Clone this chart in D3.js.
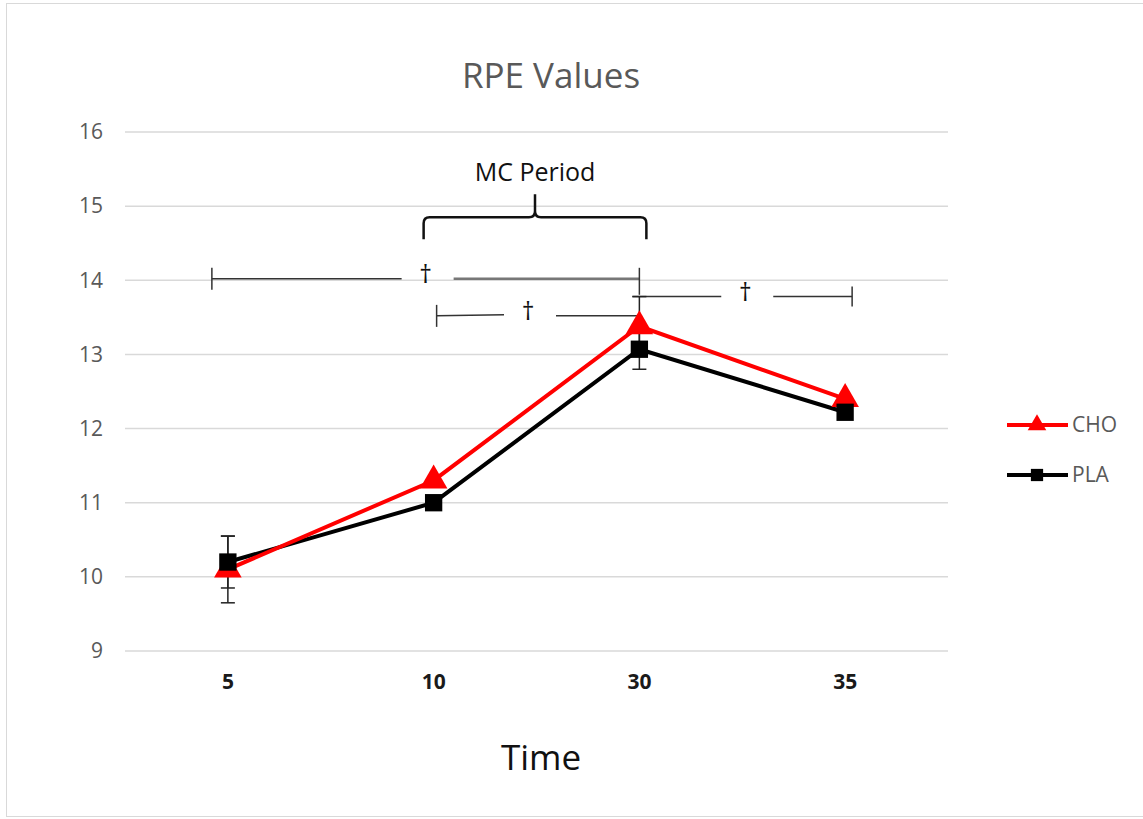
<!DOCTYPE html>
<html><head><meta charset="utf-8">
<script src="https://cdn.jsdelivr.net/npm/d3@7"></script>
<style>body{margin:0;background:#fff}svg{display:block}</style>
</head><body>
<svg id="c" width="1143" height="819"></svg>
<script>
const categories = ["5","10","30","35"];
const choValues = [10.1, 11.3, 13.38, 12.4];
const plaValues = [10.2, 11.0, 13.07, 12.22];
const choErr = [0.45, 0, 0.4, 0];
const plaErr = [0.35, 0, 0.27, 0];
const yTicks = [9,10,11,12,13,14,15,16];
const seriesNames = ["CHO","PLA"];
// significance brackets: [fromCategory, toCategory, yValue]
const sigFrom = ["5","10","30"];
const sigTo = ["30","30","35"];
const sigLevel = [14.02, 13.52, 13.78];
const braceFrom = "10", braceTo = "30", braceLevel = 14.85;

const svg = d3.select("#c");
const font = "'Open Sans', 'Noto Sans', sans-serif";
svg.append("rect").attr("x",6.5).attr("y",3.5).attr("width",1140).attr("height",813)
  .attr("fill","#fff").attr("stroke","#d9d9d9");

const x = d3.scaleBand().domain(categories).range([125,948]);
const cx = c => x(c) + x.bandwidth()/2;
const y = d3.scaleLinear().domain([9,16]).range([651,132]);

// grid
svg.append("g").selectAll("line").data(yTicks).join("line")
  .attr("x1",125).attr("x2",948).attr("y1",d=>y(d)).attr("y2",d=>y(d))
  .attr("stroke","#d9d9d9").attr("stroke-width",1.5);

// y axis labels
const ya = svg.append("g").attr("transform","translate(103,0)")
  .call(d3.axisLeft(y).tickValues(yTicks).tickFormat(d3.format("d")).tickSize(0).tickPadding(0));
ya.select(".domain").remove();
ya.selectAll("text").attr("font-family",font).attr("font-size",21).attr("fill","#595959");

// x axis labels
const xa = svg.append("g").attr("transform","translate(0,674)")
  .call(d3.axisBottom(x).tickSize(0).tickPadding(0));
xa.select(".domain").remove();
xa.selectAll("text").attr("font-family",font).attr("font-size",21).attr("font-weight","bold").attr("fill","#1a1a1a");

// title & axis title
svg.append("text").attr("x",551).attr("y",88).attr("text-anchor","middle")
  .attr("font-family",font).attr("font-size",35).attr("fill","#595959").text("RPE Values");
svg.append("text").attr("x",541).attr("y",770).attr("text-anchor","middle")
  .attr("font-family",font).attr("font-size",35).attr("fill","#111").text("Time");

// significance brackets
const leftOff = [-16, 3, -7], rightOff = [0, 0, 7], dagOff = [0, -10, 3];
const dg = svg.append("g").attr("stroke","#333").attr("stroke-width",1.5).attr("fill","none");
sigFrom.forEach((f,i)=>{
  const x1 = cx(f)+leftOff[i], x2 = cx(sigTo[i]) + rightOff[i], yy = y(sigLevel[i]);
  const mid = (x1+x2)/2 + dagOff[i];
  const gap = 24;
  dg.append("line").attr("x1",x1).attr("x2",mid-gap).attr("y1",yy).attr("y2",yy+(i===1?-1:0));
  dg.append("line").attr("x1",mid+gap+4).attr("x2",x2).attr("y1",yy).attr("y2",yy)
    .attr("stroke", i===0?"#777":"#333").attr("stroke-width", i===0?2.5:1.5);
  if(i!==2) dg.append("line").attr("x1",x1).attr("x2",x1).attr("y1",yy-11).attr("y2",yy+11);
  if(i===2) dg.append("line").attr("x1",x2).attr("x2",x2).attr("y1",yy-10).attr("y2",yy+10);
  if(i===0) dg.append("line").attr("x1",x2).attr("x2",x2).attr("y1",yy-11).attr("y2",yy+16);
  svg.append("text").attr("x",mid).attr("y",yy+4).attr("text-anchor","middle")
    .attr("font-family",font).attr("font-size",25).attr("fill","#111").text("†");
});

// brace
{
  const bx1 = cx(braceFrom)-10, bx2 = cx(braceTo)+7, by = y(braceLevel), bm = (bx1+bx2)/2;
  svg.append("path").attr("fill","none").attr("stroke","#111").attr("stroke-width",2.5)
    .attr("d",`M${bx1},${by+22} L${bx1},${by+6} Q${bx1},${by} ${bx1+6},${by} L${bm-6},${by} Q${bm},${by} ${bm},${by-6} L${bm},${by-23} M${bm},${by-6} Q${bm},${by} ${bm+6},${by} L${bx2-6},${by} Q${bx2},${by} ${bx2},${by+6} L${bx2},${by+22}`);
  svg.append("text").attr("x",bm).attr("y",by-36).attr("text-anchor","middle")
    .attr("font-family",font).attr("font-size",25).attr("fill","#111").text("MC Period");
}

// error bars
function errBars(vals, errs, color){
  const g = svg.append("g").attr("stroke",color).attr("stroke-width",1.5);
  vals.forEach((v,i)=>{
    if(!errs[i]) return;
    const xx = cx(categories[i]);
    g.append("line").attr("x1",xx).attr("x2",xx).attr("y1",y(v-errs[i])).attr("y2",y(v+errs[i]));
    [v-errs[i], v+errs[i]].forEach(e=>g.append("line").attr("x1",xx-7).attr("x2",xx+7).attr("y1",y(e)).attr("y2",y(e)));
  });
}
errBars(plaValues, plaErr, "#222");
errBars(choValues, choErr, "#222");

const line = d3.line().x((d,i)=>cx(categories[i])).y(d=>y(d));
const tri = d3.symbol().type(d3.symbolTriangle).size(330);
const sq = d3.symbol().type(d3.symbolSquare).size(300);

svg.append("path").datum(plaValues).attr("d",line).attr("fill","none").attr("stroke","#000").attr("stroke-width",4);
svg.append("path").datum(choValues).attr("d",line).attr("fill","none").attr("stroke","#ff0000").attr("stroke-width",4);
svg.append("g").selectAll("path").data(choValues).join("path")
  .attr("transform",(d,i)=>`translate(${cx(categories[i])},${y(d)})`).attr("d",tri).attr("fill","#ff0000");
svg.append("g").selectAll("path").data(plaValues).join("path")
  .attr("transform",(d,i)=>`translate(${cx(categories[i])},${y(d)})`).attr("d",sq).attr("fill","#000");

// legend
const lg = svg.append("g");
const lcol = ["#ff0000","#000"], lsym = [d3.symbol().type(d3.symbolTriangle).size(150), d3.symbol().type(d3.symbolSquare).size(150)];
seriesNames.forEach((n,i)=>{
  const ly = 425 + i*50;
  lg.append("line").attr("x1",1007).attr("x2",1068).attr("y1",ly).attr("y2",ly).attr("stroke",lcol[i]).attr("stroke-width",4);
  lg.append("path").attr("transform",`translate(1037,${ly})`).attr("d",lsym[i]).attr("fill",lcol[i]);
  lg.append("text").attr("x",1072).attr("y",ly+7).attr("font-family",font).attr("font-size",21).attr("fill","#595959").text(n);
});
</script>
</body></html>
